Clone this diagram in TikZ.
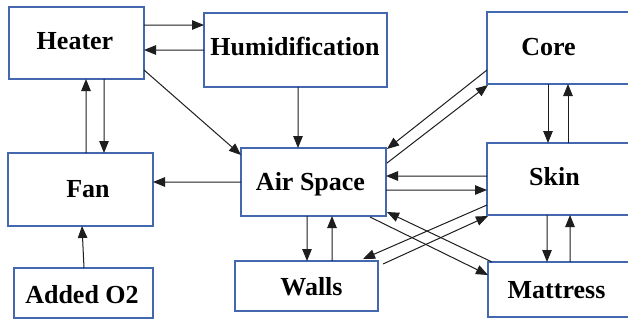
\documentclass[tikz,border=0pt]{standalone}
\usepackage{fontspec}
\setmainfont{Liberation Serif}
\usetikzlibrary{arrows.meta,calc}
\definecolor{boxblue}{RGB}{68,104,176}
\definecolor{linegray}{RGB}{30,30,30}
\begin{document}
\begin{tikzpicture}[x=1bp,y=-1bp,
  box/.style={draw=boxblue,line width=1.5bp,rectangle,inner sep=0pt,outer sep=0pt,fill=white},
  txt/.style={anchor=base,inner sep=0pt,font=\fontsize{26bp}{30bp}\selectfont\bfseries},
  flow/.style={draw=linegray,line width=1bp,-{Triangle[length=12bp,width=9.5bp]}}]
\useasboundingbox (0,0) rectangle (628,321);
\clip (0,0) rectangle (628,321);
\fill[white] (0,0) rectangle (628,321);

% boxes (centre, size)
\node[box,minimum width=135bp,minimum height=72bp] (heater) at (76.5,43) {};
\node[box,minimum width=183bp,minimum height=74bp] (humid) at (295.5,50) {};
\node[box,minimum width=145bp,minimum height=73bp] (fan) at (80.5,189.5) {};
\node[box,minimum width=139bp,minimum height=50bp] (otwo) at (83.5,293) {};
\node[box,minimum width=145bp,minimum height=68bp] (air) at (313.5,182) {};
\node[box,minimum width=143bp,minimum height=50bp] (walls) at (306.5,286) {};
\node[box,minimum width=163bp,minimum height=72bp] (core) at (568.5,48) {};
\node[box,minimum width=163bp,minimum height=72bp] (skin) at (568.5,179) {};
\node[box,minimum width=162bp,minimum height=55bp] (mattress) at (569,289.5) {};

% labels
\node[txt] (heaterT) at (75,49.5) {Heater};
\node[txt] (humidT) at (295,55) {Humidification};
\node[txt] (fanT) at (88,197) {Fan};
\node[txt] (otwoT) at (82,303) {Added O2};
\node[txt] (airT) at (310.5,190) {Air Space};
\node[txt] (wallsT) at (311.5,295) {Walls};
\node[txt] (coreT) at (548.5,55) {Core};
\node[txt] (skinT) at (554.5,185) {Skin};
\node[txt] (mattressT) at (556.5,298) {Mattress};

% heater / humidification / fan
\draw[flow] ($(heater.north east)+(0,18)$) -- ($(humid.north west)+(0,12)$);
\draw[flow] ($(humid.north west)+(0,37)$) -- ($(heater.north east)+(0,43)$);
\draw[flow] ($(heater.north east)+(0,63)$) -- ($(air.north west)+(0,7)$);
\draw[flow] ($(humid.south west)+(94,0)$) -- ($(air.north west)+(57,0)$);
\draw[flow] ($(fan.north west)+(78,0)$) -- ($(heater.south west)+(77,0)$);
\draw[flow] ($(heater.south west)+(95,0)$) -- ($(fan.north west)+(96,0)$);
\draw[flow] ($(air.north west)+(0,34)$) -- ($(fan.north east)+(0,29)$);
\draw[flow] ($(otwo.north west)+(70,0)$) -- ($(fan.south west)+(74,0)$);

% air space / walls
\draw[flow] ($(air.south west)+(66,0)$) -- ($(walls.north west)+(72,0)$);
\draw[flow] ($(walls.north west)+(97,0)$) -- ($(air.south west)+(91,0)$);

% air space / core / skin / mattress
\draw[flow] ($(core.north west)+(0,58)$) -- ($(air.north east)+(1,1)$);
\draw[flow] ($(air.north east)+(1,15)$) -- ($(core.south west)+(1,1)$);
\draw[flow] ($(skin.north west)+(0,33)$) -- ($(air.north east)+(0,28)$);
\draw[flow] ($(air.north east)+(0,42)$) -- ($(skin.north west)+(0,47)$);
\draw[flow] ($(skin.north west)+(0,62)$) -- ($(walls.north east)+(-15,-2)$);
\draw[flow] ($(walls.north east)+(5,3)$) -- ($(skin.south west)+(1,1)$);
\draw[flow] ($(air.south east)+(-16,1)$) -- ($(mattress.north west)+(0,13)$);
\draw[flow] ($(mattress.north west)+(4,0)$) -- ($(air.south east)+(1,-4)$);

% core / skin / mattress
\draw[flow] ($(core.south west)+(61,0)$) -- ($(skin.north west)+(61,0)$);
\draw[flow] ($(skin.north west)+(81,0)$) -- ($(core.south west)+(81,0)$);
\draw[flow] ($(skin.south west)+(60,0)$) -- ($(mattress.north west)+(59,0)$);
\draw[flow] ($(mattress.north west)+(82,0)$) -- ($(skin.south west)+(83,0)$);
\end{tikzpicture}
\end{document}
